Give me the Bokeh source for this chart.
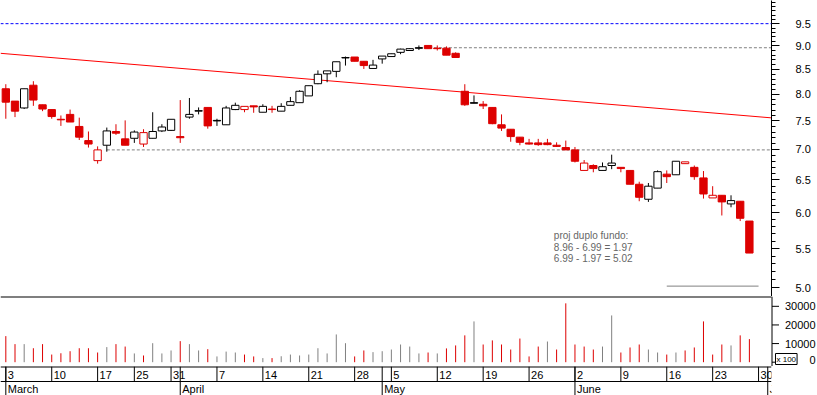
import math
import pandas as pd
from bokeh.plotting import figure
from bokeh.layouts import column
from bokeh.models import Range1d, FixedTicker, PrintfTickFormatter, Label, Span
from bokeh.embed import file_html
from bokeh.resources import INLINE
from bokeh.core.properties import value

# ---------------- data ----------------
holidays = ["2008-03-21", "2008-03-24", "2008-05-01"]
calendar = [d for d in pd.bdate_range("2008-03-03", "2008-07-01")
            if d.strftime("%Y-%m-%d") not in holidays]

open_ = [8.11, 7.87, 7.74, 8.18, 7.80, 7.71, 7.53, 7.62, 7.40, 7.15,
         6.81, 7.07, 7.31, 7.18, 7.19, 7.09, 7.19, 7.32, 7.33, 7.22,
         7.57, 7.68, 7.75, 7.51, 7.43, 7.71, 7.71, 7.78, 7.66, 7.72,
         7.68, 7.79, 7.84, 7.97, 8.21, 8.41, 8.46, 8.74, 8.76, 8.67,
         8.52, 8.72, 8.77, 8.86, 8.90, 8.96, 9.01, 8.95, 8.95, 8.84,
         8.06, 7.84, 7.81, 7.75, 7.43, 7.35, 7.21, 7.11, 7.11, 7.11,
         7.07, 7.03, 6.99, 6.65, 6.73, 6.65, 6.73, 6.70, 6.65, 6.43,
         6.20, 6.37, 6.59, 6.58, 6.76, 6.70, 6.53, 6.22, 6.26, 6.13,
         6.17, 5.88]
high = [8.20, 7.87, 8.11, 8.26, 7.80, 7.71, 7.60, 7.71, 7.56, 7.31,
        7.05, 7.38, 7.44, 7.51, 7.33, 7.35, 7.66, 7.44, 7.53, 7.89,
        7.93, 7.75, 7.75, 7.54, 7.78, 7.84, 7.77, 7.78, 7.81, 7.78,
        7.83, 7.95, 8.08, 8.17, 8.48, 8.47, 8.66, 8.77, 8.76, 8.67,
        8.70, 8.78, 8.83, 8.94, 8.95, 9.01, 9.01, 9.01, 8.99, 8.86,
        8.20, 7.98, 7.87, 7.75, 7.62, 7.35, 7.21, 7.18, 7.18, 7.18,
        7.12, 7.15, 7.04, 6.82, 6.75, 6.78, 6.91, 6.70, 6.65, 6.47,
        6.45, 6.65, 6.65, 6.80, 6.79, 6.73, 6.64, 6.40, 6.26, 6.26,
        6.17, 5.88]
low = [7.54, 7.57, 7.72, 7.78, 7.68, 7.54, 7.41, 7.48, 7.16, 7.03,
       6.76, 6.96, 7.25, 7.07, 7.11, 7.04, 7.19, 7.30, 7.32, 7.11,
       7.54, 7.62, 7.36, 7.41, 7.43, 7.70, 7.66, 7.65, 7.66, 7.65,
       7.68, 7.79, 7.84, 7.97, 8.20, 8.24, 8.34, 8.58, 8.67, 8.51,
       8.52, 8.62, 8.77, 8.82, 8.90, 8.91, 8.94, 8.90, 8.80, 8.75,
       7.78, 7.83, 7.72, 7.44, 7.32, 7.13, 7.07, 7.08, 7.06, 7.07,
       7.04, 6.99, 6.78, 6.65, 6.62, 6.65, 6.67, 6.62, 6.43, 6.17,
       6.16, 6.37, 6.45, 6.58, 6.76, 6.50, 6.21, 6.22, 5.96, 6.08,
       5.88, 5.44]
close = [7.85, 7.68, 8.11, 7.89, 7.72, 7.58, 7.52, 7.48, 7.21, 7.09,
         6.99, 7.32, 7.28, 7.07, 7.30, 7.29, 7.31, 7.39, 7.53, 7.20,
         7.62, 7.69, 7.41, 7.50, 7.74, 7.79, 7.77, 7.76, 7.77, 7.71,
         7.77, 7.86, 8.06, 8.17, 8.40, 8.47, 8.66, 8.75, 8.67, 8.58,
         8.59, 8.78, 8.83, 8.93, 8.94, 8.95, 8.94, 8.94, 8.80, 8.75,
         7.80, 7.83, 7.78, 7.45, 7.37, 7.22, 7.12, 7.09, 7.08, 7.08,
         7.05, 6.99, 6.80, 6.77, 6.68, 6.71, 6.77, 6.68, 6.43, 6.23,
         6.40, 6.63, 6.55, 6.80, 6.79, 6.55, 6.28, 6.26, 6.16, 6.18,
         5.92, 5.44]
volume = [14000, 9700, 9700, 7500, 9700, 4100, 4800, 5900, 7500, 7500,
          5200, 8100, 9700, 8400, 4700, 3600, 10200, 4700, 6300, 11300,
          9700, 6300, 7000, 3100, 5700, 5200, 4100, 3100, 2200, 2200,
          3200, 4100, 3600, 4100, 7500, 4700, 14900, 10200, 3100, 6300,
          5400, 5900, 6800, 9500, 8400, 4700, 5200, 4700, 7400, 9000,
          14400, 21900, 9500, 11700, 9500, 6800, 12700, 3100, 8400, 11100,
          6800, 31600, 9500, 8400, 6800, 8400, 25100, 5200, 7900, 9500,
          6800, 5200, 4100, 5200, 6300, 7900, 21900, 4100, 9500, 9000,
          14400, 12400]

alert_level = 9.5
double_top = 8.96
neckline = 6.99
height_diff = round(double_top - neckline, 2)
target = round(neckline - height_diff, 2)
top_start = 45
neck_start = 11
target_from, target_to = 72, 82
trend_anchor_idx = [0, 81]
trend_anchor_val = [8.83, 7.59]

price_ticks = [5.0, 5.5, 6.0, 6.5, 7.0, 7.5, 8.0, 8.5, 9.0, 9.5]
volume_ticks = [0, 10000, 20000, 30000]
volume_unit = "x 100"

# ---------------- derived ----------------
RED = "#dd0000"
VGRAY = "#808080"
FONT = "Liberation Sans"

n = len(close)
idx = list(range(n))
prev_close = [open_[0]] + close[:-1]
candle_col = [RED if c <= pc else "black" for c, pc in zip(close, prev_close)]
vol_col = [RED if c < pc else VGRAY for c, pc in zip(close, prev_close)]
body_fill = [col if c <= o else "white" for col, c, o in zip(candle_col, close, open_)]
body_top = [max(o, c) for o, c in zip(open_, close)]
body_bot = [min(o, c) for o, c in zip(open_, close)]

W = 817
FW = 771
RB = W - FW
X0, X1 = -0.58, 83.41
PPU = FW / (X1 - X0)          # pixels per trading day
xr = Range1d(X0, X1)

base = dict(toolbar_location=None, output_backend="svg",
            min_border_left=0, min_border_top=0, min_border_bottom=0,
            outline_line_color=None, x_axis_location=None,
            background_fill_color="white", border_fill_color="white")

# ---------------- price panel ----------------
p = figure(frame_width=FW, frame_height=296, x_range=xr, y_range=Range1d(4.895, 10.05),
           y_axis_type="log", y_axis_location="right", min_border_right=RB, **base)
p.grid.visible = False
ax = p.yaxis[0]
ax.ticker = FixedTicker(ticks=price_ticks,
                        minor_ticks=[round(4.9 + 0.1 * k, 1) for k in range(52)])
ax.formatter = PrintfTickFormatter(format="%.1f")
ax.major_tick_out = 8
ax.major_tick_in = 0
ax.minor_tick_out = 4
ax.minor_tick_in = 0
ax.axis_line_color = "black"
ax.major_tick_line_color = "black"
ax.minor_tick_line_color = "black"
ax.major_label_standoff = 16
ax.major_label_text_font = FONT
ax.major_label_text_font_size = "11px"
ax.major_label_text_color = "black"

p.add_layout(Span(location=alert_level, dimension="width", line_color="#0000ff",
                  line_dash="3 2", line_width=1))
p.line([top_start, X1], [double_top, double_top], line_color="#808080",
       line_dash="3 2", line_width=1)
p.line([neck_start, X1], [neckline, neckline], line_color="#808080",
       line_dash="3 2", line_width=1)
slope = (math.log(trend_anchor_val[1]) - math.log(trend_anchor_val[0])) / \
        (trend_anchor_idx[1] - trend_anchor_idx[0])
tx = [X0, X1]
ty = [math.exp(math.log(trend_anchor_val[0]) + slope * (x - trend_anchor_idx[0])) for x in tx]
p.line(tx, ty, line_color="#ff0000", line_width=1)
p.line([target_from, target_to], [target, target], line_color="#808080", line_width=1)

p.segment(x0=idx, y0=low, x1=idx, y1=high, line_color=candle_col, line_width=1)
p.vbar(x=idx, width=0.8, top=body_top, bottom=body_bot,
       fill_color=body_fill, line_color=candle_col, line_width=1)

notes = ["proj  duplo fundo:",
         f"{double_top:.2f} - {neckline:.2f} = {height_diff:.2f}",
         f"{neckline:.2f} - {height_diff:.2f} = {target:.2f}"]
for k, t in enumerate(notes):
    p.add_layout(Label(x=59.7, y=61 - 11.6 * k, y_units="screen", text=t,
                       text_font=FONT, text_font_size="10px", text_color="#666666",
                       text_baseline="middle"))

# ---------------- volume panel (frame spans the axis area too) ----------------
VBOT, VTOP = -2310, 35270
v = figure(frame_width=W, frame_height=70,
           x_range=Range1d(X0, X0 + W / PPU), y_range=Range1d(VBOT, VTOP),
           y_axis_location=None, min_border_right=0, **base)
v.grid.visible = False
v.segment(x0=idx, y0=[0] * n, x1=idx, y1=volume, line_color=vol_col, line_width=1)
v.line([X0, X1], [VTOP, VTOP], line_color="black", line_width=2)
axis_x = X1 + 0.5 / PPU
v.segment(x0=[axis_x], y0=[VBOT], x1=[axis_x], y1=[VTOP], line_color="black", line_width=1)
v.segment(x0=[axis_x] * len(volume_ticks), y0=volume_ticks,
          x1=[axis_x + 7 / PPU] * len(volume_ticks), y1=volume_ticks,
          line_color="black", line_width=1)
for t in volume_ticks:
    if t == 0:
        lab = Label(x=X1 + 44 / PPU, y=3, y_units="screen", text=str(t), text_align="right",
                    text_baseline="bottom", text_font=FONT, text_font_size="11px",
                    text_color="black")
    else:
        lab = Label(x=X1 + 44 / PPU, y=t, text=str(t), text_align="right",
                    text_baseline="middle", text_font=FONT, text_font_size="11px",
                    text_color="black")
    v.add_layout(lab)
v.add_layout(Label(x=X1 + 4 / PPU, y=2, y_units="screen", text=volume_unit,
                   text_font=FONT, text_font_size="8px", text_color="black",
                   text_baseline="bottom", border_line_color="black",
                   background_fill_color="white", padding=1))

# ---------------- date strip ----------------
s = figure(frame_width=FW, frame_height=29, x_range=xr, y_range=Range1d(0, 29),
           y_axis_location=None, min_border_right=RB, **base)
s.grid.visible = False
week_idx, week_lbl, month_idx, month_lbl = [], [], [], []
for i, d in enumerate(calendar):
    if i == 0 or d.isocalendar()[1] != calendar[i - 1].isocalendar()[1]:
        week_idx.append(i)
        week_lbl.append(str(d.day))
    if i == 0 or d.month != calendar[i - 1].month:
        month_idx.append(i)
        month_lbl.append(d.strftime("%B"))
s.add_layout(Span(location=29, dimension="width", line_color="black", line_width=2))
s.add_layout(Span(location=14, dimension="width", line_color="black", line_width=1))
s.segment(x0=week_idx, y0=[14] * len(week_idx), x1=week_idx, y1=[29] * len(week_idx),
          line_color="black", line_width=1)
s.segment(x0=month_idx, y0=[0] * len(month_idx), x1=month_idx, y1=[29] * len(month_idx),
          line_color="black", line_width=1)
s.text(x=week_idx, y=[21] * len(week_idx), text=week_lbl, x_offset=2,
       text_font=value(FONT), text_font_size="11px", text_color="black",
       text_baseline="middle")
s.text(x=month_idx, y=[6.5] * len(month_idx), text=month_lbl, x_offset=2,
       text_font=value(FONT), text_font_size="11px", text_color="black",
       text_baseline="middle")

layout = column(p, v, s, spacing=0)
open("out.html", "w").write(file_html(layout, INLINE))
